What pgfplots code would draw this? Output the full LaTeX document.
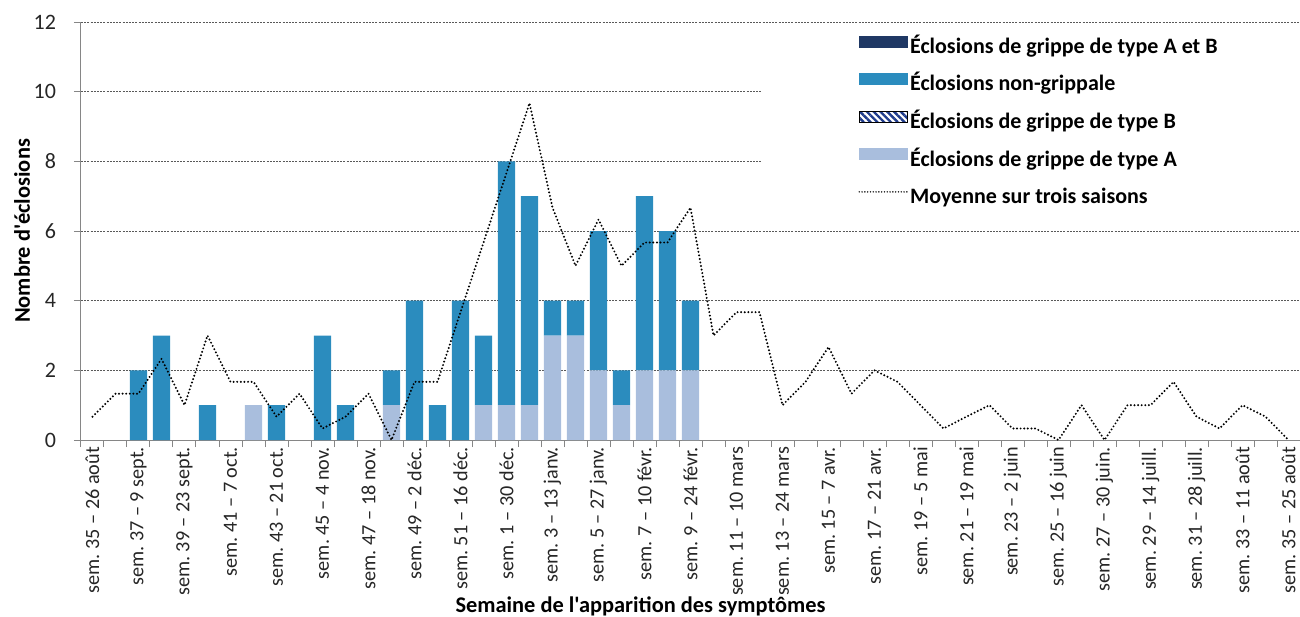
\documentclass[border=0pt]{standalone}
\usepackage{fontspec}
\setmainfont{Carlito}[Ligatures=TeXOff]
\usepackage{pgfplots}
\pgfplotsset{compat=1.18}
\usepackage{pgfplotstable}
\usetikzlibrary{patterns.meta}

\definecolor{nongrip}{HTML}{2B8CBE}
\definecolor{typeA}{HTML}{A9BEDD}
\definecolor{typeAB}{HTML}{1F3864}
\definecolor{typeB}{HTML}{203C8C}
\definecolor{axgray}{HTML}{868686}

% i = week index from sem. 35 ; A, B, non-grippale, A et B ; avg = three-season mean
\pgfplotstableread{
i A B non AB avg
0 0 0 0 0 0.67
1 0 0 0 0 1.33
2 0 0 2 0 1.33
3 0 0 3 0 2.33
4 0 0 0 0 1
5 0 0 1 0 3
6 0 0 0 0 1.67
7 1 0 0 0 1.67
8 0 0 1 0 0.67
9 0 0 0 0 1.33
10 0 0 3 0 0.33
11 0 0 1 0 0.67
12 0 0 0 0 1.33
13 1 0 1 0 0
14 0 0 4 0 1.67
15 0 0 1 0 1.67
16 0 0 4 0 3.67
17 1 0 2 0 5.67
18 1 0 7 0 7.67
19 1 0 6 0 9.67
20 3 0 1 0 6.67
21 3 0 1 0 5
22 2 0 4 0 6.33
23 1 0 1 0 5
24 2 0 5 0 5.67
25 2 0 4 0 5.67
26 2 0 2 0 6.67
27 0 0 0 0 3
28 0 0 0 0 3.67
29 0 0 0 0 3.67
30 0 0 0 0 1
31 0 0 0 0 1.67
32 0 0 0 0 2.67
33 0 0 0 0 1.33
34 0 0 0 0 2
35 0 0 0 0 1.67
36 0 0 0 0 1
37 0 0 0 0 0.33
38 0 0 0 0 0.67
39 0 0 0 0 1
40 0 0 0 0 0.33
41 0 0 0 0 0.33
42 0 0 0 0 0
43 0 0 0 0 1
44 0 0 0 0 0
45 0 0 0 0 1
46 0 0 0 0 1
47 0 0 0 0 1.67
48 0 0 0 0 0.67
49 0 0 0 0 0.33
50 0 0 0 0 1
51 0 0 0 0 0.67
52 0 0 0 0 0
}\data

\newcommand{\lbl}{\fontsize{10.1}{12}\selectfont}
\newcommand{\ylbl}{\fontsize{11}{13}\selectfont}
\newcommand{\ttl}{\fontsize{11.2}{13}\selectfont}

\pgfplotsset{
  basestyle/.style={
    scale only axis, width=609.5pt, height=209pt,
    xmin=-0.5, xmax=52.5, ymin=0, ymax=12,
  },
}

\begin{document}
\frenchspacing
\begin{tikzpicture}
\begin{axis}[
    name=ax, basestyle,
    ybar stacked, bar width=0.74,
    axis x line*=bottom, axis y line*=left,
    axis line style={axgray, line width=0.5pt},
    tick align=outside, major tick length=3.5pt,
    tick style={axgray, line width=0.5pt},
    ytick={0,2,...,12},
    ymajorgrids,
    major grid style={black!65, line width=0.5pt, dash pattern=on 1pt off 0.6pt},
    /pgf/number format/assume math mode=true,
    yticklabel style={font=\ylbl, text=black!85, xshift=-5.5pt},
    xtick={-0.5,0.5,...,52.5}, xticklabels={},
    extra x ticks={0,2,...,52},
    extra x tick labels={
      sem. 35 – 26 août, sem. 37 – 9 sept., sem. 39 – 23 sept., sem. 41 – 7 oct.,
      sem. 43 – 21 oct., sem. 45 – 4 nov., sem. 47 – 18 nov., sem. 49 – 2 déc.,
      sem. 51 – 16 déc., sem. 1 – 30 déc., sem. 3 – 13 janv., sem. 5 – 27 janv.,
      sem. 7 – 10 févr., sem. 9 – 24 févr., sem. 11 – 10 mars, sem. 13 – 24 mars,
      sem. 15 – 7 avr., sem. 17 – 21 avr., sem. 19 – 5 mai, sem. 21 – 19 mai,
      sem. 23 – 2 juin, sem. 25 – 16 juin, sem. 27 – 30 juin., sem. 29 – 14 juill.,
      sem. 31 – 28 juill., sem. 33 – 11 août, sem. 35 – 25 août},
    extra x tick style={major tick length=0pt},
    xticklabel style={rotate=90, anchor=east, font=\lbl, text=black!85},
    ylabel={Nombre d'éclosions},
    ylabel style={font=\bfseries\ttl, at={(axis description cs:0,0.5)}, anchor=center, yshift=29.5pt},
    xlabel={Semaine de l'apparition des symptômes},
    xlabel style={font=\bfseries\ttl, at={(axis description cs:0.459,0)}, anchor=center, yshift=-83pt},
]
\addplot[fill=typeA, draw=none] table[x=i, y=A] {\data};
\addplot[pattern={Lines[angle=-45,distance=2.4pt,line width=1.2pt]}, pattern color=typeB, draw=none] table[x=i, y=B] {\data};
\addplot[fill=nongrip, draw=none] table[x=i, y=non] {\data};
\addplot[fill=typeAB, draw=none] table[x=i, y=AB] {\data};
\end{axis}

\begin{axis}[
    basestyle, axis lines=none, clip=false,
    legend cell align=left,
    legend style={
      at={(axis description cs:0.5587,0.9904)}, anchor=north west,
      draw=none, fill=white, inner xsep=48pt, inner ysep=1.5pt,
      font=\bfseries\ylbl,
      nodes={text height=7.5pt, text depth=2.5pt, inner ysep=4.4pt, inner xsep=1pt},
      column sep=0pt, row sep=0pt,
    },
]
\addlegendimage{legend image code/.code={\fill[typeAB] (0pt,0.6pt) rectangle (24pt,6.1pt);}}
\addlegendentry{Éclosions de grippe de type A et B}
\addlegendimage{legend image code/.code={\fill[nongrip] (0pt,0.6pt) rectangle (24pt,6.1pt);}}
\addlegendentry{Éclosions non-grippale}
\addlegendimage{legend image code/.code={\fill[pattern={Lines[angle=-45,distance=2.4pt,line width=1.2pt]}, pattern color=typeB] (0pt,0.6pt) rectangle (24pt,6.1pt);}}
\addlegendentry{Éclosions de grippe de type B}
\addlegendimage{legend image code/.code={\fill[typeA] (0pt,0.6pt) rectangle (24pt,6.1pt);}}
\addlegendentry{Éclosions de grippe de type A}
\addplot[black, line width=1.1pt, line cap=round, dash pattern=on 0pt off 1.8pt, mark=none,
  legend image code/.code={\draw[black, line width=0.8pt, line cap=round, dash pattern=on 0pt off 1.4pt] (0pt,3.35pt) -- (24pt,3.35pt);}]
  table[x=i, y=avg] {\data};
\addlegendentry{Moyenne sur trois saisons}
\end{axis}

\pgfresetboundingbox
\path[use as bounding box] ([xshift=-40.5pt,yshift=-88pt]ax.south west) rectangle ([yshift=11pt]ax.north east);
\end{tikzpicture}
\end{document}
